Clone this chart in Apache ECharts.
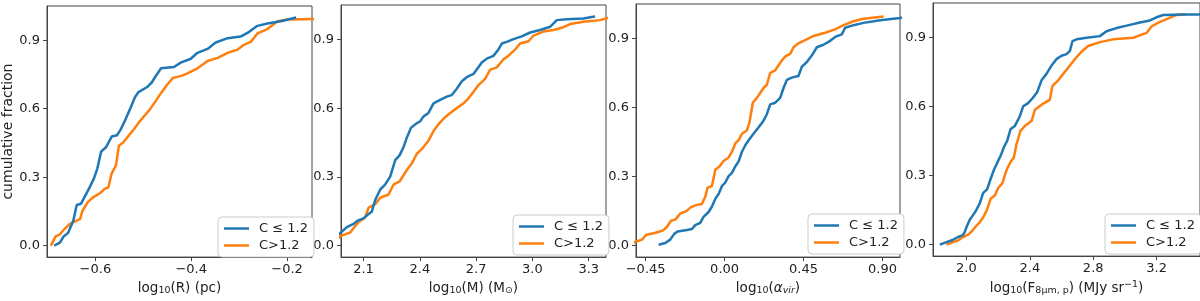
<!DOCTYPE html>
<html>
<head>
<meta charset="utf-8">
<script src="https://cdn.jsdelivr.net/npm/echarts@6/dist/echarts.min.js"></script>
<style>
html,body{margin:0;padding:0;background:#fff;}
#c{width:1200px;height:301px;}
</style>
</head>
<body>
<div id="c"></div>
<script>
// ---------- data ----------
const seriesNames = ['C \u2264 1.2', 'C>1.2'];
const yTickValues = [0.0, 0.3, 0.6, 0.9];

// Panel 1: log10(R)
const rTicks = [-0.6, -0.4, -0.2];
const rBlueX = [-0.686,-0.674,-0.667,-0.657,-0.646,-0.639,-0.630,-0.620,-0.611,-0.603,-0.596,-0.588,-0.578,-0.566,-0.555,-0.548,-0.538,-0.527,-0.517,-0.510,-0.492,-0.482,-0.475,-0.463,-0.436,-0.422,-0.401,-0.387,-0.366,-0.349,-0.324,-0.297,-0.279,-0.262,-0.241,-0.213,-0.181];
const rBlueY = [0.000,0.013,0.039,0.056,0.110,0.178,0.184,0.224,0.260,0.295,0.338,0.412,0.431,0.478,0.484,0.506,0.549,0.602,0.652,0.673,0.695,0.716,0.740,0.777,0.783,0.802,0.819,0.845,0.862,0.890,0.909,0.916,0.937,0.963,0.973,0.983,1.000];
const rOrangeX = [-0.693,-0.683,-0.674,-0.664,-0.653,-0.639,-0.632,-0.627,-0.615,-0.604,-0.590,-0.580,-0.573,-0.566,-0.557,-0.551,-0.542,-0.531,-0.520,-0.510,-0.499,-0.487,-0.475,-0.464,-0.450,-0.438,-0.419,-0.408,-0.387,-0.366,-0.345,-0.324,-0.303,-0.290,-0.275,-0.262,-0.241,-0.220,-0.199,-0.140,-0.120];
const rOrangeY = [0.000,0.041,0.050,0.074,0.096,0.110,0.116,0.153,0.193,0.213,0.231,0.250,0.255,0.317,0.352,0.438,0.452,0.481,0.509,0.538,0.566,0.595,0.631,0.666,0.706,0.735,0.745,0.755,0.777,0.809,0.823,0.845,0.859,0.880,0.894,0.930,0.949,0.983,0.991,0.993,1.000];

// Panel 2: log10(M)
const mTicks = [2.1, 2.4, 2.7, 3.0, 3.3];
const mBlueX = [1.900,1.979,2.011,2.047,2.068,2.100,2.127,2.144,2.162,2.189,2.215,2.242,2.269,2.292,2.313,2.331,2.354,2.380,2.402,2.420,2.446,2.473,2.508,2.544,2.570,2.597,2.624,2.650,2.686,2.712,2.730,2.757,2.792,2.819,2.837,2.863,2.899,2.943,2.988,3.041,3.094,3.130,3.183,3.272,3.316,3.334];
const mBlueY = [0.000,0.057,0.081,0.095,0.109,0.119,0.138,0.148,0.199,0.245,0.266,0.301,0.373,0.394,0.429,0.472,0.515,0.532,0.543,0.564,0.579,0.621,0.636,0.650,0.657,0.685,0.717,0.735,0.749,0.778,0.799,0.816,0.828,0.856,0.882,0.889,0.901,0.913,0.930,0.941,0.955,0.984,0.988,0.991,0.998,1.000];
const mOrangeX = [1.930,1.979,2.029,2.052,2.073,2.109,2.127,2.162,2.189,2.233,2.260,2.292,2.331,2.357,2.384,2.411,2.446,2.473,2.499,2.530,2.562,2.597,2.633,2.659,2.686,2.712,2.748,2.775,2.810,2.846,2.872,2.908,2.934,2.979,3.005,3.058,3.112,3.165,3.201,3.272,3.360,3.430];
const mOrangeY = [0.000,0.043,0.057,0.081,0.102,0.124,0.166,0.181,0.209,0.223,0.266,0.280,0.330,0.358,0.401,0.422,0.458,0.500,0.529,0.557,0.579,0.600,0.621,0.643,0.671,0.700,0.728,0.768,0.778,0.813,0.828,0.856,0.882,0.892,0.916,0.934,0.941,0.953,0.967,0.977,0.984,1.000];

// Panel 3: log10(alpha_vir)
const aTicks = [-0.45, 0.00, 0.45, 0.90];
const aBlueX = [-0.376,-0.338,-0.310,-0.287,-0.268,-0.215,-0.186,-0.167,-0.139,-0.120,-0.091,-0.072,-0.053,-0.034,-0.015,0.004,0.023,0.042,0.061,0.080,0.099,0.118,0.137,0.165,0.194,0.222,0.241,0.260,0.289,0.317,0.336,0.355,0.383,0.421,0.440,0.469,0.497,0.526,0.564,0.602,0.630,0.668,0.687,0.735,0.792,0.887,1.000,1.080];
const aBlueY = [0.004,0.011,0.026,0.051,0.061,0.068,0.072,0.089,0.099,0.125,0.146,0.170,0.203,0.224,0.259,0.274,0.302,0.316,0.344,0.366,0.408,0.436,0.458,0.486,0.514,0.543,0.571,0.614,0.621,0.642,0.685,0.720,0.730,0.737,0.777,0.798,0.826,0.862,0.873,0.890,0.907,0.918,0.947,0.958,0.968,0.979,0.989,1.000];
const aOrangeX = [-0.560,-0.503,-0.471,-0.446,-0.404,-0.370,-0.347,-0.328,-0.306,-0.281,-0.253,-0.218,-0.192,-0.158,-0.129,-0.110,-0.097,-0.072,-0.053,-0.029,-0.006,0.023,0.042,0.061,0.080,0.099,0.127,0.142,0.161,0.184,0.203,0.222,0.241,0.260,0.289,0.308,0.327,0.346,0.374,0.393,0.421,0.459,0.507,0.573,0.630,0.678,0.735,0.792,0.906];
const aOrangeY = [0.000,0.018,0.026,0.047,0.054,0.061,0.068,0.082,0.108,0.113,0.139,0.150,0.167,0.177,0.181,0.213,0.252,0.259,0.330,0.344,0.368,0.383,0.408,0.444,0.458,0.486,0.500,0.536,0.621,0.642,0.663,0.685,0.699,0.751,0.762,0.784,0.805,0.822,0.833,0.862,0.879,0.893,0.911,0.925,0.940,0.958,0.975,0.986,0.996];

// Panel 4: log10(F_8um,p)
const fTicks = [2.0, 2.4, 2.8, 3.2];
const fBlueX = [1.832,1.874,1.916,1.947,1.975,1.989,2.004,2.021,2.038,2.059,2.084,2.105,2.131,2.152,2.173,2.194,2.217,2.236,2.257,2.278,2.305,2.337,2.358,2.389,2.417,2.446,2.474,2.505,2.537,2.568,2.600,2.632,2.653,2.669,2.695,2.758,2.842,2.884,2.947,3.032,3.095,3.158,3.200,3.242,3.368,3.500];
const fBlueY = [0.000,0.011,0.021,0.033,0.040,0.054,0.082,0.108,0.125,0.146,0.179,0.224,0.241,0.284,0.324,0.355,0.388,0.423,0.451,0.501,0.515,0.558,0.601,0.615,0.636,0.662,0.714,0.742,0.778,0.806,0.821,0.828,0.842,0.884,0.892,0.899,0.906,0.927,0.941,0.955,0.965,0.974,0.988,0.998,1.000,1.000];
const fOrangeX = [1.874,1.916,1.947,1.979,2.011,2.038,2.063,2.084,2.105,2.131,2.152,2.179,2.200,2.227,2.253,2.278,2.299,2.316,2.341,2.368,2.411,2.432,2.474,2.526,2.543,2.579,2.611,2.653,2.684,2.726,2.768,2.842,2.926,3.053,3.137,3.168,3.211,3.263,3.326,3.379];
const fOrangeY = [0.000,0.011,0.018,0.033,0.043,0.061,0.082,0.097,0.118,0.153,0.199,0.213,0.246,0.267,0.324,0.359,0.378,0.437,0.494,0.515,0.537,0.586,0.608,0.629,0.690,0.714,0.742,0.778,0.806,0.838,0.863,0.880,0.892,0.899,0.920,0.948,0.965,0.980,0.998,1.000];

// ---------- layout ----------
const FONT = 'DejaVu Sans';
const BLUE = '#1f77b4', ORANGE = '#ff7f0e';
const panels = [
  {grid:{left:47, top:6, width:265, height:258}, xmin:-0.701, xmax:-0.148, ticks:rTicks, dec:1,
   name:'{n|log}{s|10}{n|(R) (pc)}', blue:[rBlueX,rBlueY], orange:[rOrangeX,rOrangeY], legend:{left:218, top:217}},
  {grid:{left:341, top:5, width:265, height:257}, xmin:1.98, xmax:3.392, ticks:mTicks, dec:1,
   name:'{n|log}{s|10}{n|(M) (M}{s|\u2299}{n|)}', blue:[mBlueX,mBlueY], orange:[mOrangeX,mOrangeY], legend:{left:513, top:215}},
  {grid:{left:636, top:4, width:264, height:257}, xmin:-0.505, xmax:1.0, ticks:aTicks, dec:2,
   name:'{n|log}{s|10}{n|(}{i|\u03b1}{is|vir}{n|)}', blue:[aBlueX,aBlueY], orange:[aOrangeX,aOrangeY], legend:{left:808, top:214}},
  {grid:{left:933, top:3, width:268, height:259}, xmin:1.789, xmax:3.474, ticks:fTicks, dec:1,
   name:'{n|log}{s|10}{n|(F}{s|8\u03bcm, p}{n|) (MJy sr}{p|\u22121}{n|)}', blue:[fBlueX,fBlueY], orange:[fOrangeX,fOrangeY], legend:{left:1105, top:214}}
];

const zip = (xs, ys) => xs.map((x, i) => [x, ys[i]]);
const fmt = (dec) => (v) => Number(v).toFixed(dec).replace('-', '\u2212');
const AX = '#444', TXT = '#222';
const rich = {
  n:{fontSize:13.5, fontFamily:FONT, color:TXT},
  s:{fontSize:9.5, fontFamily:FONT, color:TXT, verticalAlign:'bottom', padding:[6,0,0,0]},
  i:{fontSize:13.5, fontFamily:FONT, color:TXT, fontStyle:'italic'},
  is:{fontSize:9.5, fontFamily:FONT, color:TXT, fontStyle:'italic', verticalAlign:'bottom', padding:[6,0,0,0]},
  p:{fontSize:9.5, fontFamily:FONT, color:TXT, verticalAlign:'top', padding:[0,0,6,0]}
};

const option = {
  animation:false,
  backgroundColor:'#fff',
  grid:[], xAxis:[], yAxis:[], series:[], legend:[]
};

panels.forEach((p, k) => {
  option.grid.push(Object.assign({show:true, borderColor:AX, borderWidth:1, backgroundColor:'transparent', containLabel:false}, p.grid));
  option.xAxis.push({
    type:'value', gridIndex:k, min:p.xmin, max:p.xmax,
    name:p.name, nameLocation:'middle', nameGap:21,
    nameTextStyle:{rich:rich, fontFamily:FONT, fontSize:13.5, color:TXT},
    axisLine:{show:true, onZero:false, lineStyle:{color:AX, width:1}},
    axisTick:{show:true, length:4, inside:false, customValues:p.ticks, lineStyle:{color:AX}},
    axisLabel:{show:true, customValues:p.ticks, margin:6, formatter:fmt(p.dec), fontFamily:FONT, fontSize:13, color:TXT},
    splitLine:{show:false}
  });
  option.yAxis.push({
    type:'value', gridIndex:k, min:-0.05, max:1.05,
    name: k === 0 ? 'cumulative fraction' : '', nameLocation:'middle', nameGap:30,
    nameTextStyle:{fontFamily:FONT, fontSize:14, color:TXT},
    axisLine:{show:true, onZero:false, lineStyle:{color:AX, width:1}},
    axisTick:{show:true, length:4, inside:false, customValues:yTickValues, lineStyle:{color:AX}},
    axisLabel:{show:true, customValues:yTickValues, margin:7, formatter:fmt(1), fontFamily:FONT, fontSize:13, color:TXT},
    splitLine:{show:false}
  });
  option.series.push({
    name:seriesNames[0], type:'line', xAxisIndex:k, yAxisIndex:k, data:zip(p.blue[0], p.blue[1]),
    showSymbol:false, symbol:'none', clip:true, lineStyle:{color:BLUE, width:2.5}, itemStyle:{color:BLUE}, z:3
  });
  option.series.push({
    name:seriesNames[1], type:'line', xAxisIndex:k, yAxisIndex:k, data:zip(p.orange[0], p.orange[1]),
    showSymbol:false, symbol:'none', clip:true, lineStyle:{color:ORANGE, width:2.5}, itemStyle:{color:ORANGE}, z:2
  });
  option.legend.push({
    data:seriesNames, orient:'vertical', left:p.legend.left, top:p.legend.top,
    icon:'rect', itemWidth:25, itemHeight:2.5, itemGap:4,
    padding:[5,6,5,6], backgroundColor:'#fff', borderColor:'#ccc', borderWidth:1, borderRadius:4,
    textStyle:{fontFamily:FONT, fontSize:13, color:TXT, padding:[0,0,0,5]},
    selectedMode:false
  });
});

const chart = echarts.init(document.getElementById('c'), null, {renderer:'canvas'});
chart.setOption(option);
</script>
</body>
</html>
